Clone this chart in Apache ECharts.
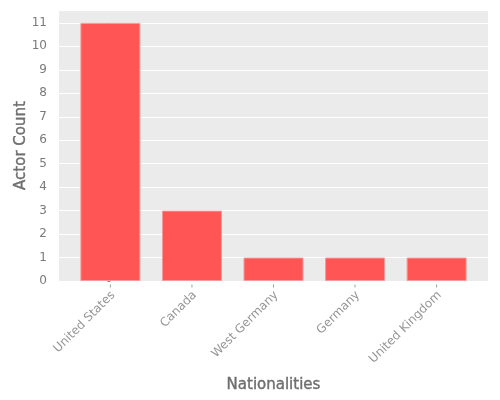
<!DOCTYPE html>
<html>
<head>
<meta charset="utf-8">
<script src="https://cdn.jsdelivr.net/npm/echarts@6/dist/echarts.min.js"></script>
<style>
  html, body { margin: 0; padding: 0; background: #fff; }
  #bar_chart { width: 500px; height: 400px; }
</style>
</head>
<body>
<div id="bar_chart"></div>
<script>
var countries = ["United States", "Canada", "West Germany", "Germany", "United Kingdom"];
var actorCounts = [11, 3, 1, 1, 1];
var yTicks = [0, 1, 2, 3, 4, 5, 6, 7, 8, 9, 10, 11];

var chartDom = document.getElementById("bar_chart");
var myChart = echarts.init(chartDom);
var option;

var textGray = "#7a7a7a";

option = {
  animation: false,
  textStyle: { fontFamily: "DejaVu Sans" },
  grid: {
    left: 59,
    right: 12,
    top: 10,
    bottom: 119,
    outerBoundsMode: "none",
    show: true,
    backgroundColor: "#ebebeb",
    borderWidth: 0,
  },
  xAxis: {
    type: "value",
    min: -0.63,
    max: 4.63,
    interval: 1,
    name: "Nationalities",
    nameLocation: "middle",
    nameGap: 97,
    nameTextStyle: { color: "#6e6e6e", fontSize: 15, fontWeight: "normal", textBorderColor: "#6e6e6e", textBorderWidth: 0.4 },
    axisLine: { show: false },
    splitLine: { show: false },
    axisTick: { show: false },
    axisLabel: { show: false },
  },
  yAxis: {
    type: "value",
    min: 0,
    max: 11.55,
    interval: 1,
    offset: 2,
    name: "Actor Count",
    nameLocation: "middle",
    nameGap: 28,
    nameMoveOverlap: false,
    nameTextStyle: { color: "#6e6e6e", fontSize: 15, fontWeight: "normal", textBorderColor: "#6e6e6e", textBorderWidth: 0.4 },
    axisLine: { show: false },
    axisTick: { show: true, length: 3, lineStyle: { color: "#888" } },
    axisLabel: {
      color: textGray,
      fontSize: 12,
      margin: 10,
      showMaxLabel: false,
      formatter: function (v) {
        return yTicks.indexOf(v) >= 0 ? String(v) : "";
      },
    },
    splitLine: { show: true, lineStyle: { color: "#ffffff", width: 1 } },
  },
  series: [
    {
      type: "bar",
      barWidth: 60,
      data: actorCounts.map(function (v, i) { return [i, v]; }),
      itemStyle: { color: "#ff5555", borderColor: "#f39a9a", borderWidth: 1 },
      z: 3,
    },
    {
      // category labels under each bar, placed by the x scale
      type: "scatter",
      symbol: "rect",
      symbolSize: [1, 3],
      symbolOffset: [0, 5],
      data: countries.map(function (c, i) { return { value: [i, 0], name: c }; }),
      itemStyle: { color: "#888" },
      label: {
        show: true,
        position: "bottom",
        distance: 10,
        offset: [5, -1],
        rotate: 45,
        align: "right",
        verticalAlign: "middle",
        color: textGray,
        fontSize: 12,
        formatter: function (p) { return p.name; },
      },
      silent: true,
      clip: false,
      z: 4,
    },
  ],
};

option && myChart.setOption(option);
</script>
</body>
</html>
